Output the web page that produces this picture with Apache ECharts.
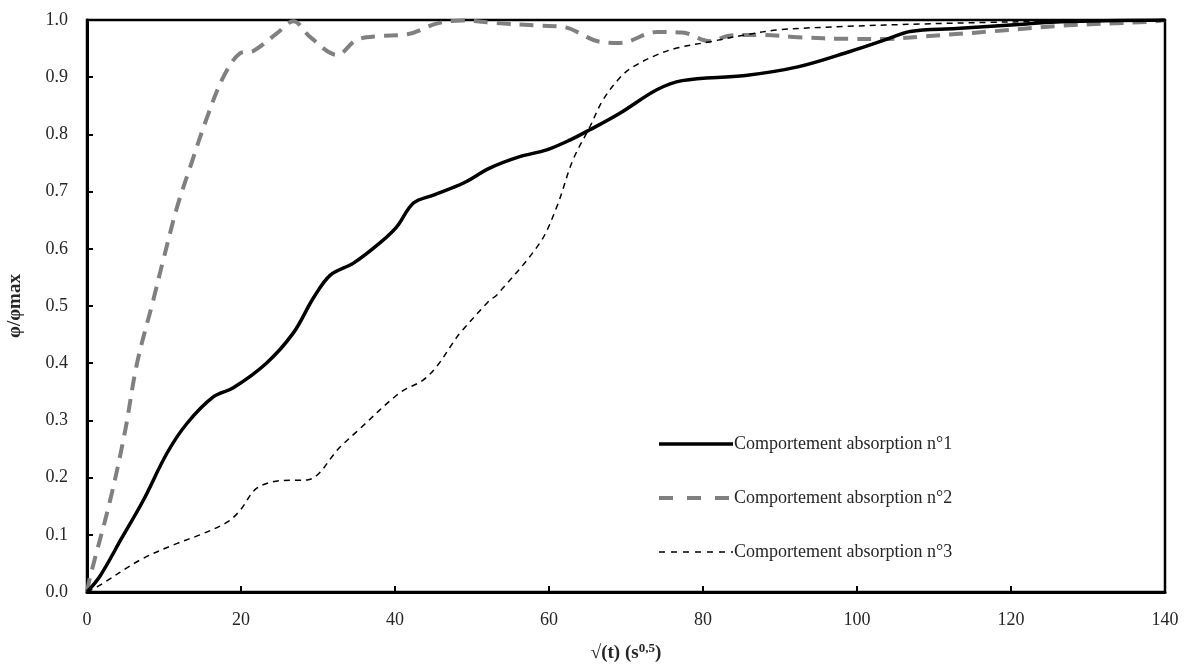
<!DOCTYPE html>
<html>
<head>
<meta charset="utf-8">
<script src="https://cdn.jsdelivr.net/npm/echarts@6/dist/echarts.min.js"></script>
<style>
html,body{margin:0;padding:0;background:#fff;}
#chart{width:1193px;height:669px;}
</style>
</head>
<body>
<div id="chart"></div>
<script>
// Series names
const seriesNames = ['Comportement absorption n°1', 'Comportement absorption n°2', 'Comportement absorption n°3'];

// Series 1 (solid black)
const x1 = [0, 1.7, 4.5, 7.3, 10.4, 13, 16.4, 19, 23.3, 26.8, 29.4, 31.6, 34.6, 38, 40.2, 42.4, 45, 48.9, 52.3, 56.2, 59.7, 62.7, 65.3, 69.2, 74, 77.3, 85.5, 92.3, 99.1, 103.8, 106.9, 112.9, 122, 126.5, 140];
const y1 = [0, 0.028, 0.094, 0.16, 0.243, 0.295, 0.341, 0.357, 0.40, 0.453, 0.514, 0.554, 0.575, 0.61, 0.638, 0.68, 0.694, 0.715, 0.741, 0.761, 0.773, 0.79, 0.808, 0.837, 0.878, 0.894, 0.903, 0.918, 0.945, 0.966, 0.98, 0.985, 0.993, 0.997, 1.0];

// Series 2 (grey dashed)
const x2 = [0, 0.4, 3, 4.9, 6.5, 8.6, 9.9, 11.7, 13.4, 15.6, 17.7, 19.9, 21.6, 24.7, 26.8, 29, 32.5, 35, 38, 41.6, 45.5, 48.8, 52.7, 58.8, 61.8, 66.6, 69.2, 74, 77.3, 80.9, 83.6, 87.8, 92.3, 99, 103.8, 108.3, 117.4, 126.5, 138, 140];
const y2 = [0, 0.026, 0.16, 0.278, 0.40, 0.51, 0.58, 0.673, 0.743, 0.83, 0.90, 0.942, 0.946, 0.977, 0.998, 0.97, 0.939, 0.965, 0.972, 0.975, 0.994, 0.999, 0.995, 0.99, 0.988, 0.962, 0.96, 0.979, 0.978, 0.963, 0.973, 0.974, 0.97, 0.967, 0.967, 0.971, 0.98, 0.99, 0.997, 1.0];

// Series 3 (thin black dashed)
const x3 = [0, 1.7, 6.9, 11.7, 14.7, 18.2, 19.9, 22.1, 25.5, 28.6, 32.9, 35, 40.6, 43.6, 45.4, 47.5, 48.4, 52.3, 53.2, 58.8, 61, 63.1, 65.3, 67, 69.2, 70.9, 74, 76.6, 80.9, 85.5, 90, 99, 108.3, 117.4, 122, 140];
const y3 = [0, 0.012, 0.056, 0.085, 0.1, 0.122, 0.143, 0.182, 0.195, 0.196, 0.254, 0.28, 0.348, 0.37, 0.394, 0.435, 0.452, 0.51, 0.519, 0.61, 0.673, 0.755, 0.813, 0.86, 0.899, 0.918, 0.939, 0.951, 0.962, 0.974, 0.983, 0.989, 0.993, 0.996, 0.997, 1.0];

// Axis ticks
const xTicks = [0, 20, 40, 60, 80, 100, 120, 140];
const yTicks = [0, 0.1, 0.2, 0.3, 0.4, 0.5, 0.6, 0.7, 0.8, 0.9, 1.0];

const pairs = (xs, ys) => xs.map((x, i) => [x, ys[i]]);
const FONT = '"Liberation Serif", "DejaVu Serif", serif';

const styles = [
  { color: '#000', width: 3.5, type: 'solid' },
  { color: '#808080', width: 4, type: [14, 9] },
  { color: '#000', width: 1.5, type: [6, 5] }
];
const legendStyles = [
  { color: '#000', width: 3.5, type: 'solid' },
  { color: '#808080', width: 4, type: [14, 14] },
  { color: '#000', width: 1.5, type: [6, 6] }
];

const chart = echarts.init(document.getElementById('chart'));
chart.setOption({
  animation: false,
  backgroundColor: '#fff',
  grid: { left: 87, right: 28, top: 20, bottom: 77, show: true, borderColor: '#000', borderWidth: 2.5, outerBoundsMode: 'none', containLabel: false },
  xAxis: {
    type: 'value', min: xTicks[0], max: xTicks[xTicks.length - 1], interval: 20,
    axisLine: { lineStyle: { color: '#000', width: 3 } },
    axisTick: { inside: true, length: 6, lineStyle: { color: '#000', width: 2 } },
    axisLabel: { color: '#262626', fontFamily: FONT, fontSize: 18, margin: 19 },
    splitLine: { show: false },
    name: '{b|√(t) (s}{sup|0,5}{b|)}',
    nameLocation: 'middle', nameGap: 50,
    nameTextStyle: {
      rich: {
        b: { fontFamily: FONT, fontSize: 19, fontWeight: 'bold', color: '#262626', verticalAlign: 'bottom' },
        sup: { fontFamily: FONT, fontSize: 13, fontWeight: 'bold', color: '#262626', verticalAlign: 'top', padding: [0, 0, 8, 0] }
      }
    }
  },
  yAxis: {
    type: 'value', min: 0, max: 1, interval: 0.1,
    axisLine: { show: true, lineStyle: { color: '#000', width: 3 } },
    axisTick: { show: true, inside: true, length: 6, lineStyle: { color: '#000', width: 2 } },
    axisLabel: { color: '#262626', fontFamily: FONT, fontSize: 18, margin: 19, formatter: v => v.toFixed(1) },
    splitLine: { show: false },
    name: 'φ/φmax', nameLocation: 'middle', nameGap: 62, nameRotate: 90,
    nameTextStyle: { fontFamily: FONT, fontSize: 19, fontWeight: 'bold', color: '#262626' }
  },
  legend: {
    orient: 'vertical', left: 652, top: 430, itemWidth: 74, itemHeight: 14, itemGap: 36,
    itemStyle: { opacity: 0 },
    textStyle: { fontFamily: FONT, fontSize: 18, color: '#262626', padding: [0, 0, 0, -4] },
    data: seriesNames.map((n, i) => ({ name: n, lineStyle: legendStyles[i] }))
  },
  series: seriesNames.map((n, i) => ({
    name: n, type: 'line',
    data: [pairs(x1, y1), pairs(x2, y2), pairs(x3, y3)][i],
    smooth: 0.35, showSymbol: false, symbol: 'none',
    lineStyle: styles[i], itemStyle: { color: styles[i].color }, z: [3, 2, 4][i]
  }))
});
</script>
</body>
</html>
